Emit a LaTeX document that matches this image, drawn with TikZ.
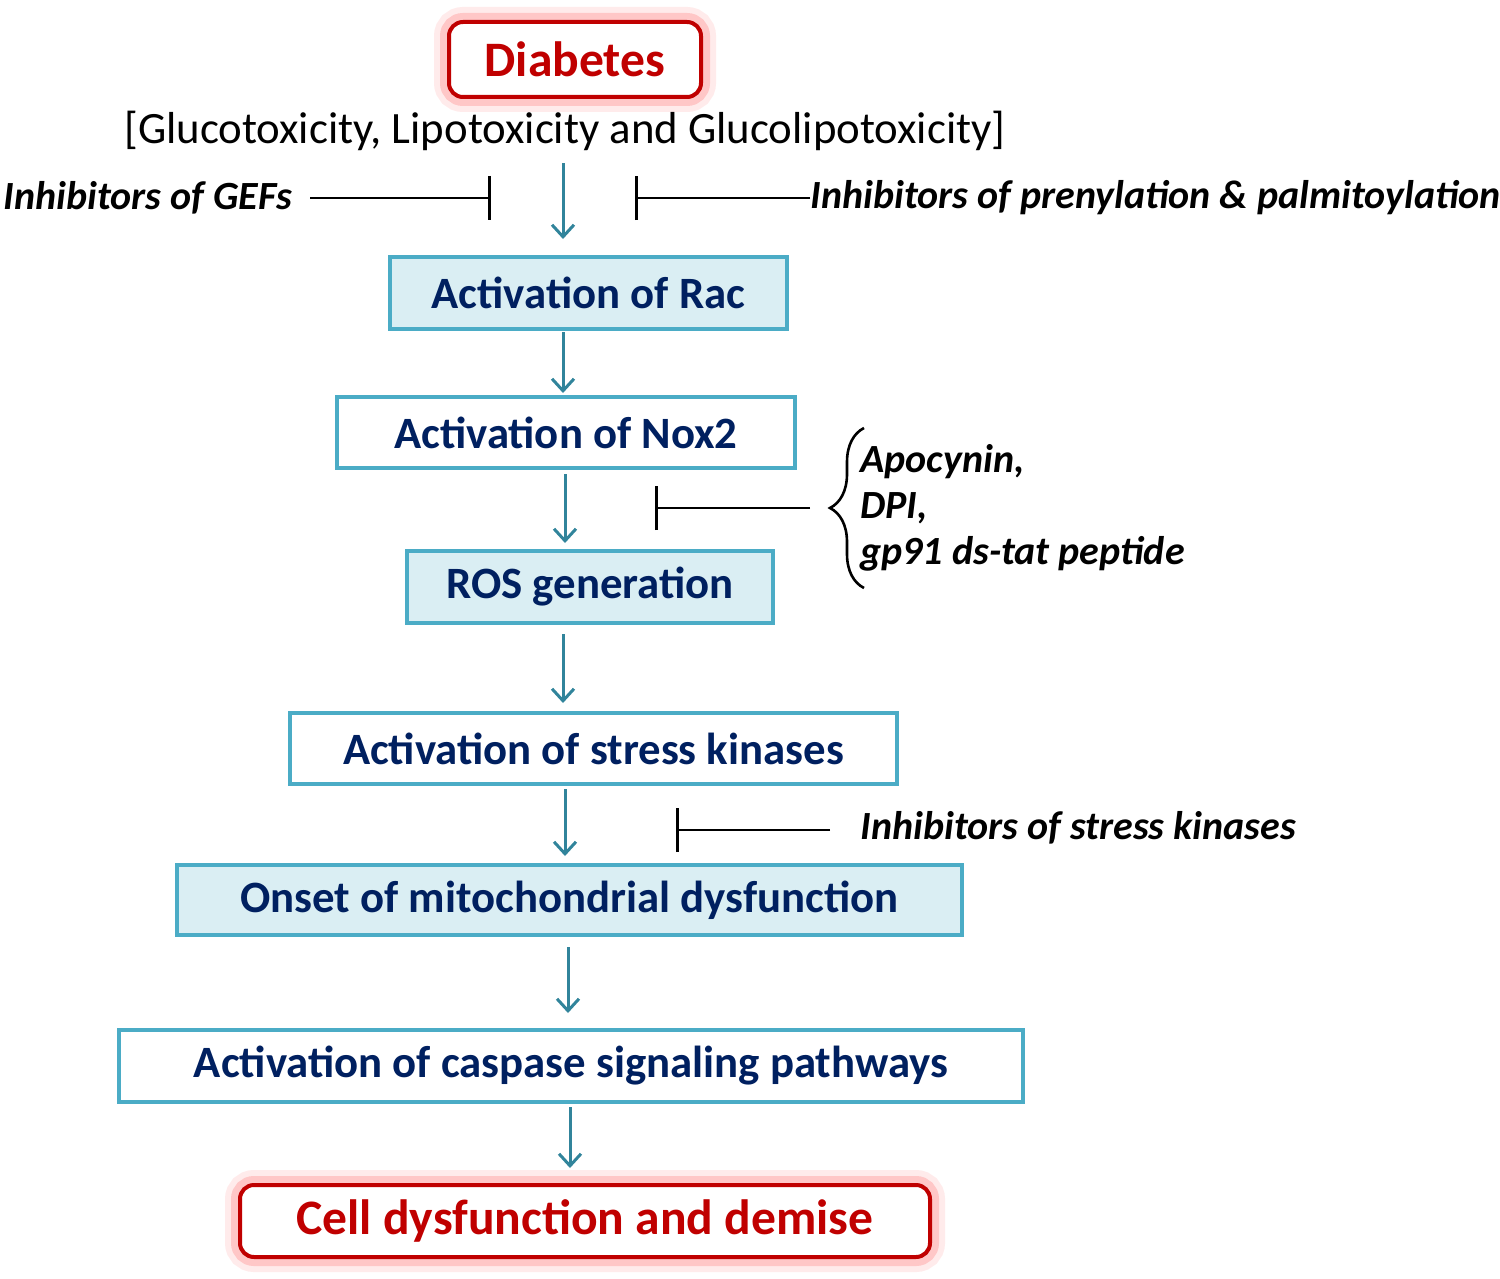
\documentclass[tikz,border=0pt]{standalone}
\usepackage{fontspec}
\setmainfont{Carlito}
\usetikzlibrary{arrows.meta,decorations.pathreplacing}

\definecolor{boxline}{HTML}{4BACC6}
\definecolor{boxfill}{HTML}{DAEEF3}
\definecolor{navy}{HTML}{002060}
\definecolor{flowc}{HTML}{31849B}
\definecolor{darkred}{HTML}{C00000}

\tikzset{
  stepbox/.style={draw=boxline, line width=2pt, fill=white, text=navy, inner sep=0pt,
    font=\bfseries\fontsize{22.4}{24}\selectfont},
  stepfill/.style={stepbox, fill=boxfill},
  redbox/.style={draw=darkred, line width=2pt, rounded corners=7pt, fill=white, text=darkred, inner sep=0pt,
    font=\bfseries\fontsize{24.8}{26}\selectfont,
    preaction={draw=red!8, line width=15pt},
    preaction={draw=red!22, line width=9pt}},
  flow/.style={flowc, line width=1.5pt, -{Straight Barb[length=6pt,width=11pt,line width=1.5pt]}},
  block/.style={line width=1.3pt, -{Bar[width=22pt,line width=1.3pt]}},
  drug/.style={inner sep=0pt, font=\bfseries\itshape\fontsize{20}{23}\selectfont}
}

\begin{document}
\begin{tikzpicture}[x=0.5pt, y=-0.5pt]
  \useasboundingbox (0,0) rectangle (1500,1279);

  \node[redbox, minimum width=126pt, minimum height=37.5pt] (diab) at (575,59.5) {Diabetes};
  \node[inner sep=0pt, font=\fontsize{22.4}{24}\selectfont] (gluco) at (565,131)
    {[Glucotoxicity, Lipotoxicity and Glucolipotoxicity]};

  \node[stepfill, minimum width=198.5pt, minimum height=36pt] (rac) at (588.5,293) {Activation of Rac};
  \node[stepbox, minimum width=229pt, minimum height=35.5pt] (nox) at (566,432.5) {Activation of Nox2};
  \node[stepfill, minimum width=183pt, minimum height=36pt] (ros) at (590,587) {ROS generation};
  \node[stepbox, minimum width=303.5pt, minimum height=35.5pt] (kin) at (593.5,748.5) {Activation of stress kinases};
  \node[stepfill, minimum width=392.5pt, minimum height=35pt] (mito) at (569.5,900) {Onset of mitochondrial dysfunction};
  \node[stepbox, minimum width=452pt, minimum height=36pt] (casp) at (571,1066) {Activation of caspase signaling pathways};
  \node[redbox, minimum width=345pt, minimum height=36pt] (cell) at (585,1221) {Cell dysfunction and demise};

  % main pathway
  \draw[flow, shorten <=6pt, shorten >=8pt] (gluco.south -| 563,0) -- (rac.north -| 563,0);
  \draw[flow, shorten <=0.5pt, shorten >=1pt] (rac.south -| 563,0) -- (nox.north -| 563,0);
  \draw[flow, shorten <=2pt, shorten >=3pt] (nox.south -| 565,0) -- (ros.north -| 565,0);
  \draw[flow, shorten <=4.5pt, shorten >=4pt] (ros.south -| 563,0) -- (kin.north -| 563,0);
  \draw[flow, shorten <=1.5pt, shorten >=3.5pt] (kin.south -| 565,0) -- (mito.north -| 565,0);
  \draw[flow, shorten <=5pt, shorten >=7.5pt] (mito.south -| 568,0) -- (casp.north -| 568,0);
  \draw[flow, shorten <=1.5pt, shorten >=7.5pt] (casp.south -| 570,0) -- (cell.north -| 570,0);

  % inhibitors
  \node[drug, anchor=west] (gefs) at (3,198) {Inhibitors of GEFs};
  \node[drug, anchor=west] (prenyl) at (810,198) {Inhibitors of prenylation \& palmitoylation};
  \node[drug, anchor=west, align=left] (drugs) at (860,508) {Apocynin,\\DPI,\\gp91 ds-tat peptide};
  \node[drug, anchor=west] (stressinh) at (860,828) {Inhibitors of stress kinases};

  \coordinate (gefbar) at (491,198);
  \coordinate (prenylbar) at (635,198);
  \coordinate (noxbar) at (655,508);
  \coordinate (kinbar) at (676,830);
  \coordinate (bracetip) at (828,508);

  \draw[block, shorten <=9pt] (gefs.east) -- (gefbar);
  \draw[block] (prenyl.west) -- (prenylbar);
  \draw[decorate, decoration={brace, amplitude=17pt}, line width=1.3pt] (864,588) -- (864,428);
  \draw[block, shorten <=9pt] (bracetip) -- (noxbar);
  \draw[block, shorten <=15pt] (stressinh.west |- kinbar) -- (kinbar);

\end{tikzpicture}
\end{document}
